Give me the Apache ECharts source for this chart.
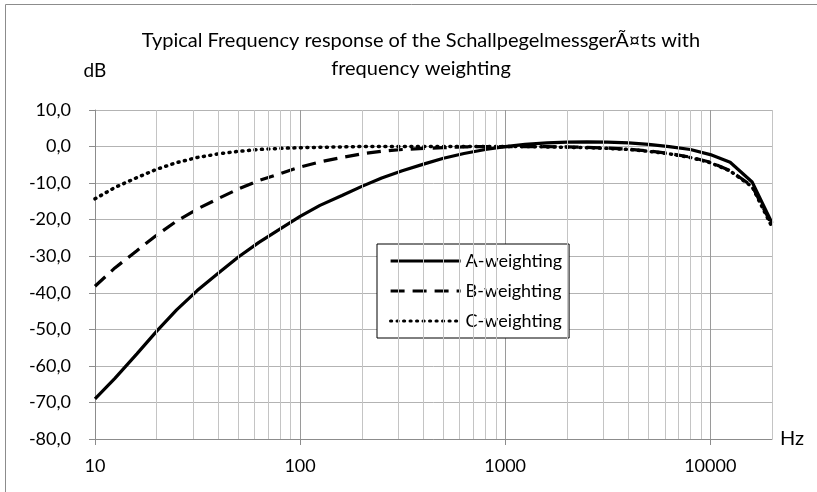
<!DOCTYPE html>
<html>
<head>
<meta charset="utf-8">
<script src="https://cdn.jsdelivr.net/npm/echarts@6/dist/echarts.min.js"></script>
<style>
  html, body { margin: 0; padding: 0; background: #fff; }
  #chart { width: 817px; height: 492px; }
</style>
</head>
<body>
<div id="chart"></div>
<script>
  // third-octave frequencies (Hz)
  const freqs = [10, 12.5, 16, 20, 25, 31.5, 40, 50, 63, 80, 100, 125, 160, 200, 250, 315, 400, 500, 630, 800,
    1000, 1250, 1600, 2000, 2500, 3150, 4000, 5000, 6300, 8000, 10000, 12500, 16000, 20000];
  const aWeighting = [-69.0, -63.4, -56.7, -50.5, -44.7, -39.4, -34.6, -30.2, -26.2, -22.5, -19.1, -16.1, -13.4, -10.9, -8.6, -6.6, -4.8, -3.2, -1.9, -0.8,
    0, 0.6, 1.0, 1.2, 1.3, 1.2, 1.0, 0.6, 0.0, -0.8, -2.2, -4.3, -9.7, -20.9];
  const bWeighting = [-38.2, -33.2, -28.5, -24.2, -20.4, -17.1, -14.2, -11.6, -9.3, -7.4, -5.6, -4.2, -3.0, -2.0, -1.3, -0.8, -0.5, -0.3, -0.1, 0,
    0, 0, 0, -0.1, -0.2, -0.4, -0.7, -1.2, -1.9, -2.9, -4.3, -6.6, -10.8, -21.5];
  const cWeighting = [-14.3, -11.2, -8.5, -6.2, -4.4, -3.0, -2.0, -1.3, -0.8, -0.5, -0.3, -0.2, -0.1, 0, 0, 0, 0, 0, 0, 0,
    0, 0, -0.1, -0.2, -0.3, -0.5, -0.8, -1.3, -2.0, -3.0, -4.4, -6.7, -11.0, -22.0];
  const seriesNames = ['A-weighting', 'B-weighting', 'C-weighting'];
  const decadeTicks = [10, 100, 1000, 10000];
  const minorGrid = [20, 30, 40, 50, 60, 70, 80, 90, 200, 300, 400, 500, 600, 700, 800, 900,
    2000, 3000, 4000, 5000, 6000, 7000, 8000, 9000, 20000];

  const font = 'Lato, "Open Sans", sans-serif';
  const pair = (ys) => freqs.map((f, i) => [f, ys[i]]);

  const chart = echarts.init(document.getElementById('chart'), null, { renderer: 'canvas' });

  const lineSeries = (name, ys, lineStyle) => ({
    name: name,
    type: 'line',
    data: pair(ys),
    symbol: 'none',
    smooth: false,
    z: 3,
    lineStyle: Object.assign({ color: '#000', width: 3.2 }, lineStyle),
    itemStyle: { color: '#000' }
  });

  const option = {
    animation: false,
    backgroundColor: '#fff',
    title: {
      text: 'Typical Frequency response of the SchallpegelmessgerÃ¤ts with\nfrequency weighting',
      left: 416,
      top: 22,
      textAlign: 'center',
      textStyle: { fontFamily: font, fontSize: 20, fontWeight: 'normal', color: '#000', lineHeight: 28 }
    },
    graphic: [
      {
        type: 'rect',
        silent: true,
        shape: { x: 5.5, y: 4.5, width: 900, height: 600 },
        style: { fill: 'none', stroke: '#8c8c8c', lineWidth: 1 }
      }
    ],
    legend: {
      data: seriesNames,
      orient: 'vertical',
      left: 377,
      top: 244,
      itemWidth: 70,
      itemHeight: 14,
      itemGap: 12,
      padding: [8, 7, 8, 12],
      borderColor: '#000',
      borderWidth: 1,
      backgroundColor: '#fff',
      itemStyle: { opacity: 0 },
      lineStyle: { width: 3.2 },
      textStyle: { fontFamily: font, fontSize: 18, color: '#000' }
    },
    grid: { left: 95, right: 45, top: 110, bottom: 53 },
    xAxis: {
      type: 'log',
      logBase: 10,
      min: 10,
      max: 20000,
      name: 'Hz',
      nameLocation: 'end',
      nameGap: 8,
      nameTextStyle: { fontFamily: font, fontSize: 20, color: '#000', verticalAlign: 'middle' },
      axisLine: { show: true, onZero: false, lineStyle: { color: '#8c8c8c', width: 1 } },
      axisTick: { show: true, customValues: decadeTicks, length: 6, lineStyle: { color: '#8c8c8c' } },
      axisLabel: {
        customValues: decadeTicks, fontFamily: font, fontSize: 18, color: '#000', margin: 18,
        formatter: (v) => String(v)
      },
      splitLine: { show: true, lineStyle: { color: '#9a9a9a', width: 1 } }
    },
    yAxis: {
      type: 'value',
      min: -80,
      max: 10,
      interval: 10,
      name: 'dB',
      nameLocation: 'end',
      nameGap: 30,
      nameTextStyle: { fontFamily: font, fontSize: 19, color: '#000' },
      axisLine: { show: true, lineStyle: { color: '#8c8c8c', width: 1 } },
      axisTick: { show: true, length: 6, lineStyle: { color: '#8c8c8c' } },
      axisLabel: {
        fontFamily: font, fontSize: 18, color: '#000', margin: 24,
        formatter: (v) => v.toFixed(1).replace('.', ',')
      },
      splitLine: { show: true, lineStyle: { color: '#b3b3b3', width: 1 } }
    },
    series: [
      // minor log grid lines
      {
        name: 'grid',
        type: 'line',
        data: [],
        z: 1,
        silent: true,
        markLine: {
          silent: true,
          symbol: 'none',
          label: { show: false },
          animation: false,
          lineStyle: { color: '#c4c4c4', width: 1, type: 'solid' },
          data: minorGrid.map((f) => ({ xAxis: f }))
        }
      },
      lineSeries(seriesNames[0], aWeighting, { type: 'solid' }),
      lineSeries(seriesNames[1], bWeighting, { type: [14, 8] }),
      lineSeries(seriesNames[2], cWeighting, { type: [1, 5.5], cap: 'round', width: 3.5 })
    ]
  };

  chart.setOption(option);
</script>
</body>
</html>
